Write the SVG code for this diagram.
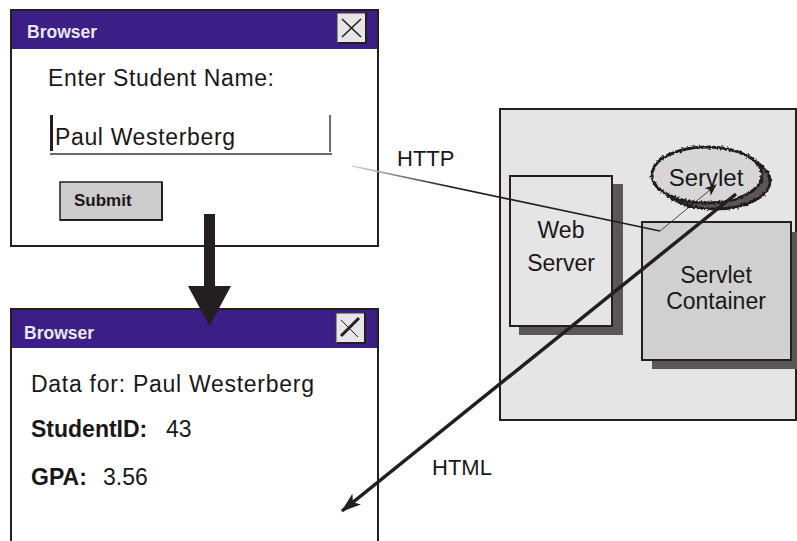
<svg xmlns="http://www.w3.org/2000/svg" width="797" height="541" viewBox="0 0 797 541">
  <style>
    text { font-family: "Liberation Sans", Arial, sans-serif; fill: #1a1718; }
    .title { font-size: 17.5px; font-weight: bold; fill: #e8e8ee; }
    .body { font-size: 23px; }
    .bold { font-weight: bold; }
    .win { fill: #ffffff; stroke: #231f20; stroke-width: 2; }
    .bar { fill: #3b1f86; }
    .btnx { fill: #e6e6e6; stroke: #3a3a3a; stroke-width: 1; }
    .btnshade { fill: none; stroke: #231f20; stroke-width: 2; }
    .box { stroke: #231f20; stroke-width: 2; }
    .shadow { fill: #5b5657; }
  </style>
  <defs>
    <linearGradient id="fade" gradientUnits="userSpaceOnUse" x1="352" y1="166" x2="450" y2="187">
      <stop offset="0" stop-color="#d8d8d8"/>
      <stop offset="1" stop-color="#231f20"/>
    </linearGradient>
    <!-- ragged outline for the servlet bubble -->
    <filter id="rough" x="-15%" y="-30%" width="130%" height="160%">
      <feTurbulence type="fractalNoise" baseFrequency="0.45" numOctaves="1" seed="7" result="noise"/>
      <feDisplacementMap in="SourceGraphic" in2="noise" scale="4.5" xChannelSelector="R" yChannelSelector="G"/>
    </filter>
    <marker id="smallHead" viewBox="0 0 12 10" refX="11" refY="5" markerWidth="12" markerHeight="10" markerUnits="userSpaceOnUse" orient="auto">
      <path d="M0,0 L12,5 L0,10 L3,5 Z" fill="#231f20"/>
    </marker>
    <marker id="bigHead" viewBox="0 0 20 14" refX="19" refY="7" markerWidth="20" markerHeight="14" markerUnits="userSpaceOnUse" orient="auto">
      <path d="M0,0 L20,7 L0,14 L5,7 Z" fill="#231f20"/>
    </marker>
  </defs>

  <!-- server machine -->
  <g id="server-host">
    <rect x="500" y="109" width="296" height="311" fill="#e5e5e5" class="box"/>
  </g>

  <g id="web-server">
    <rect x="519" y="184" width="104" height="151" class="shadow"/>
    <rect x="510" y="176" width="102" height="150" fill="#e5e5e5" class="box"/>
    <text x="561" y="238" class="body" text-anchor="middle">Web</text>
    <text x="561" y="271" class="body" text-anchor="middle">Server</text>
  </g>

  <g id="servlet-container">
    <rect x="652" y="232" width="150" height="137" class="shadow"/>
    <rect x="642" y="222" width="149" height="138" fill="#d0d0d0" class="box"/>
    <text x="716" y="283" class="body" text-anchor="middle">Servlet</text>
    <text x="716" y="309" class="body" text-anchor="middle">Container</text>
  </g>

  <g id="servlet">
    <g filter="url(#rough)">
      <ellipse cx="715" cy="181" rx="55" ry="28" fill="#5b5657" stroke="#231f20" stroke-width="3"/>
      <ellipse cx="707" cy="175" rx="55" ry="28" fill="#d6d6d6" stroke="#231f20" stroke-width="3"/>
    </g>
    <text x="706" y="186" font-size="24" text-anchor="middle">Servlet</text>
  </g>

  <!-- first browser window: request form -->
  <g id="browser-form">
    <rect x="11" y="10" width="367" height="236" class="win"/>
    <rect x="12" y="11" width="365" height="38" class="bar"/>
    <text x="27" y="38" class="title">Browser</text>
    <rect x="337" y="13" width="29" height="30" class="btnx"/>
    <polyline points="338,43 366,43 366,13" class="btnshade"/>
    <path d="M342,19 L361,37 M361,19 L342,37" stroke="#231f20" stroke-width="1.6" fill="none"/>
    <text x="48" y="86" class="body" textLength="226" lengthAdjust="spacing">Enter Student Name:</text>
    <line x1="51.5" y1="115" x2="51.5" y2="151" stroke="#231f20" stroke-width="3"/>
    <line x1="330" y1="115" x2="330" y2="152" stroke="#231f20" stroke-width="1.3"/>
    <line x1="50" y1="154" x2="332" y2="154" stroke="#3a3a3a" stroke-width="1.5"/>
    <text x="55" y="145" class="body" textLength="180" lengthAdjust="spacing">Paul Westerberg</text>
    <rect x="60" y="182" width="102" height="38" fill="#cccccc" stroke="#231f20" stroke-width="1.5"/>
    <polyline points="60,220 162,220 162,182" fill="none" stroke="#231f20" stroke-width="2"/>
    <text x="74" y="206" class="bold" font-size="17">Submit</text>
  </g>

  <!-- second browser window: result page -->
  <g id="browser-result">
    <rect x="11" y="309" width="367" height="240" class="win"/>
    <rect x="12" y="310" width="365" height="38" class="bar"/>
    <text x="24" y="339" class="title">Browser</text>
    <rect x="336" y="313" width="29" height="30" class="btnx"/>
    <polyline points="337,343 365,343 365,313" class="btnshade"/>
    <path d="M359,318 L341,336" stroke="#231f20" stroke-width="3" fill="none"/>
    <path d="M341,320 L358,337" stroke="#231f20" stroke-width="1" fill="none"/>
    <text x="31" y="392" class="body" textLength="283" lengthAdjust="spacing">Data for: Paul Westerberg</text>
    <text x="31" y="437" class="body bold">StudentID:</text>
    <text x="166" y="437" class="body">43</text>
    <text x="31" y="485" class="body bold">GPA:</text>
    <text x="103" y="485" class="body">3.56</text>
  </g>

  <!-- connectors -->
  <g id="connectors">
    <rect x="204" y="214" width="11" height="74" fill="#231f20"/>
    <polygon points="188,286 231,286 209.5,326" fill="#231f20"/>
    <line x1="352" y1="166" x2="660" y2="231" stroke="url(#fade)" stroke-width="1.6"/>
    <line x1="660" y1="231" x2="716" y2="185" stroke="#231f20" stroke-width="0.8" marker-end="url(#smallHead)"/>
    <line x1="736" y1="194" x2="342" y2="511" stroke="#231f20" stroke-width="3.5" marker-end="url(#bigHead)"/>
    <text x="397" y="166" font-size="22">HTTP</text>
    <text x="432" y="475" font-size="22">HTML</text>
  </g>
</svg>
